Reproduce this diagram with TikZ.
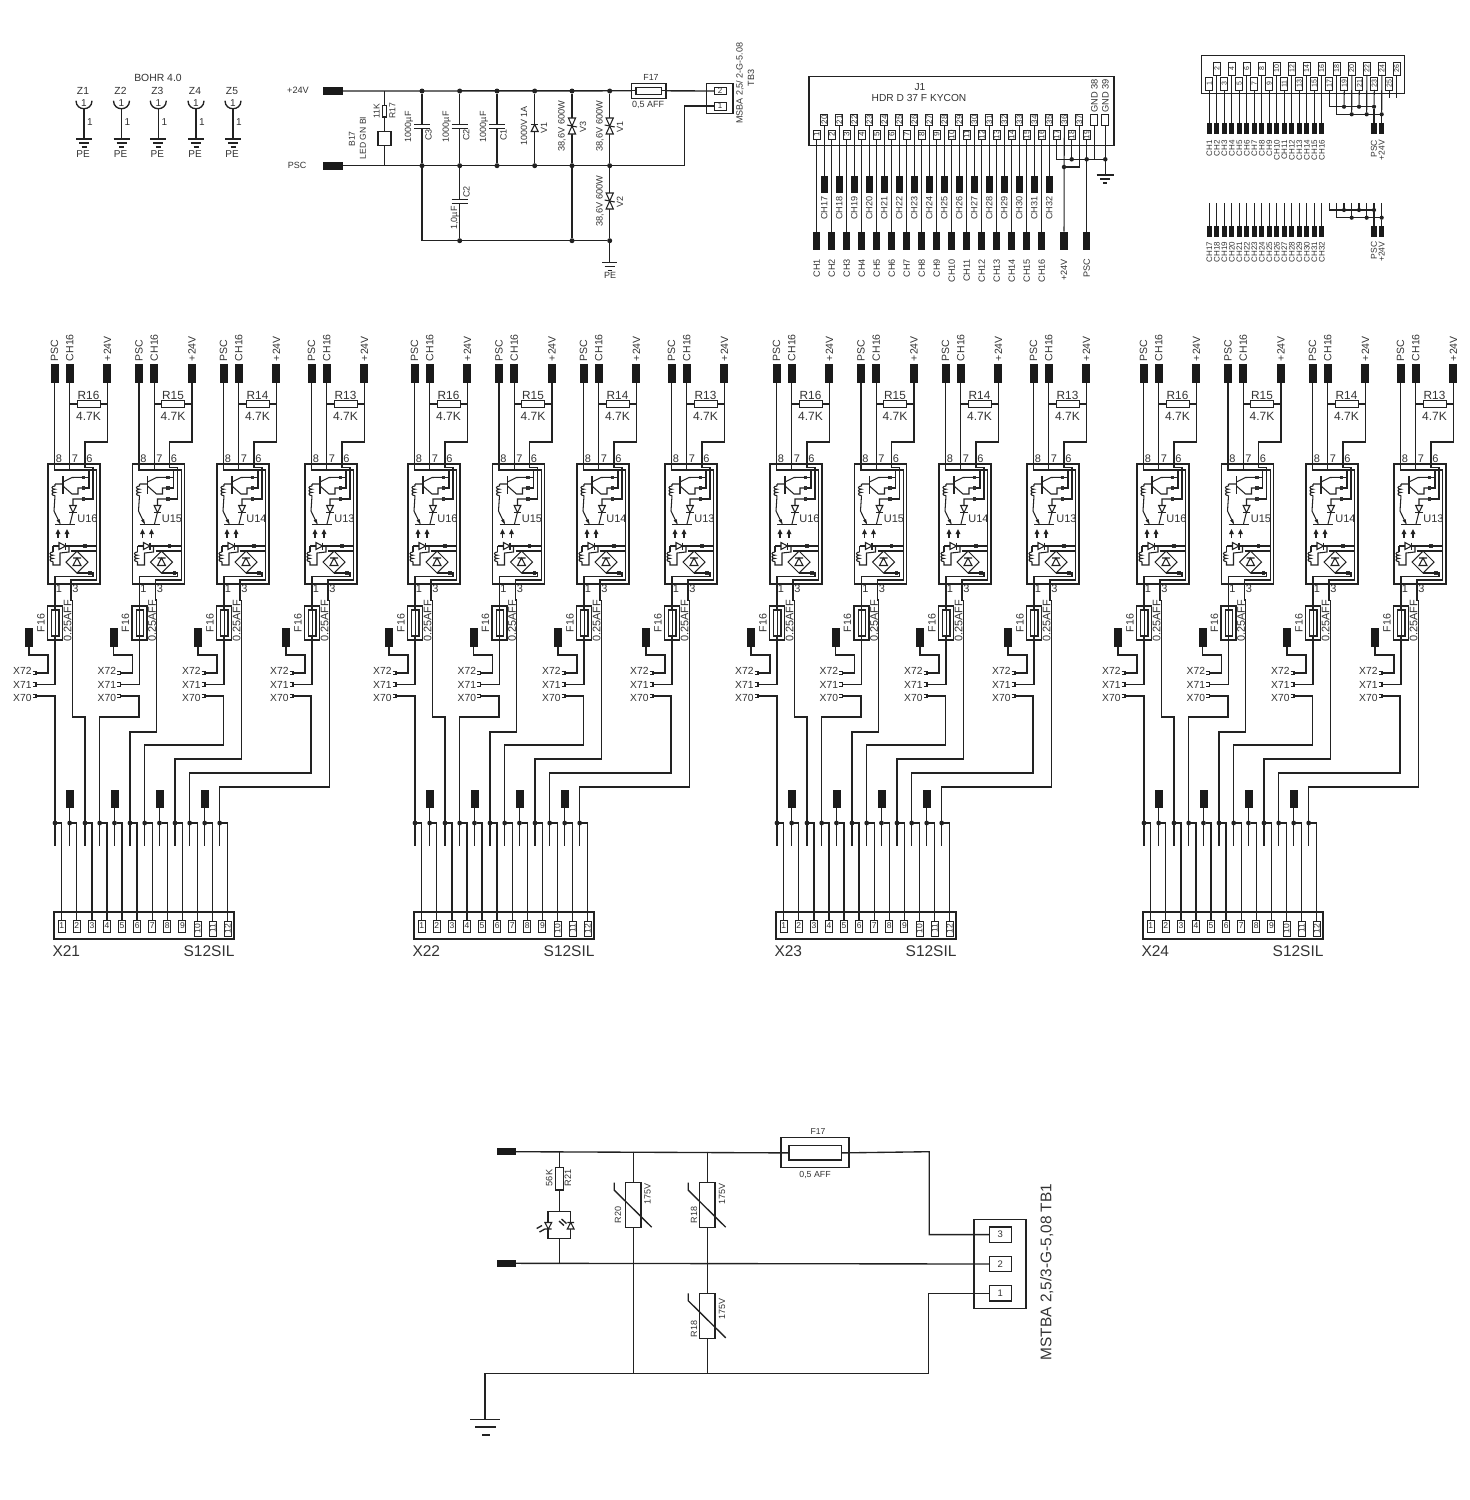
\documentclass[tikz,border=0pt]{standalone}
\usepackage{fontspec}
\usepackage{graphicx}
\setmainfont{Liberation Sans}
\definecolor{ink}{HTML}{222222}
\definecolor{tink}{HTML}{333333}
\definecolor{padc}{HTML}{1A1A1A}
\newcount\tcnt
\newcommand\lab[4][]{\global\advance\tcnt by 1\relax\node[txt,#1] (t\the\tcnt) at (#2,#3) {#4};}
\newcommand\rlab[4][]{\lab[rotate=90,#1]{#2}{#3}{#4}}
\newcommand\spad[2]{\fill[tink] (#1-1.8,#2-1.6) rectangle (#1+1.8,#2+1.6);}
\newcommand\coilv[3]{\draw[wthin] (#1,#2) .. controls (#1-#3,#2) and (#1-#3,#2+3.2) .. (#1,#2+3.2) .. controls (#1-#3,#2+3.2) and (#1-#3,#2+6.4) .. (#1,#2+6.4) .. controls (#1-#3,#2+6.4) and (#1-#3,#2+9.6) .. (#1,#2+9.6);}
\newcommand\gnd[5]{\draw[wire] (#1-#3,#2) -- (#1+#3,#2) (#1-#4,#2+4) -- (#1+#4,#2+4) (#1-#5,#2+8) -- (#1+#5,#2+8);}
\newcommand\tvs[2]{\draw[wthin,fill=white] (#1-3.6,#2-8) -- (#1+3.6,#2-8) -- (#1,#2) -- cycle (#1-3.6,#2+8) -- (#1+3.6,#2+8) -- (#1,#2) -- cycle; \draw[wthin] (#1-5,#2-1) -- (#1+5,#2+1);}
\newcommand\capsym[3]{\draw[wire] (#1-#3,#2-2) -- (#1+#3,#2-2) (#1-#3,#2+2) -- (#1+#3,#2+2);}
\newcommand\varis[3]{%
  \node[varbox] (#3) at (#1,#2) {};
  \draw[wire] (#1-19,#2-22.5) -- (#1-19,#2-15) -- (#1+18.4,#2+22);}
\newcommand\lightarrow[1]{\draw[wire] (#1,537.5) -- (#1,533); \fill[ink] (#1,529) -- (#1+2.4,534) -- (#1-2.4,534) -- cycle;}
\tikzset{
  wire/.style={draw=ink,line width=1.35pt},
  wthin/.style={draw=ink,line width=1.05pt},
  txt/.style={inner sep=0pt,outer sep=0pt,text=tink},
  fs/.style={font=\fontsize{#1}{#1}\selectfont},
  padv/.style={fill=padc,draw=none,inner sep=0pt,outer sep=0pt,minimum width=8pt,minimum height=19pt},
  padh/.style={fill=padc,draw=none,inner sep=0pt,outer sep=0pt,minimum width=20pt,minimum height=8pt},
  rbox/.style={draw=ink,line width=1pt,fill=white,inner sep=0pt,outer sep=0pt,minimum width=23pt,minimum height=7pt},
  ubox/.style={draw=ink,line width=1.1pt,inner sep=0pt,outer sep=0pt,minimum width=52pt,minimum height=120pt},
  plainbox/.style={draw=ink,line width=1.1pt,inner sep=0pt,outer sep=0pt,text=tink},
  fuseo/.style={draw=ink,line width=1.1pt,inner sep=0pt,outer sep=0pt,minimum width=15pt,minimum height=34pt},
  fusei/.style={draw=ink,line width=1.1pt,fill=white,inner sep=0pt,outer sep=0pt,minimum width=7.3pt,minimum height=26pt},
  pinbox/.style={draw=ink,line width=.9pt,fill=white,inner sep=0pt,outer sep=0pt,text=tink,minimum width=7pt,minimum height=11pt,font=\fontsize{8}{8}\selectfont},
  jdot/.style={circle,fill=ink,draw=none,inner sep=0pt,outer sep=0pt,minimum size=5pt},
  varbox/.style={draw=ink,line width=1.3pt,fill=white,inner sep=0pt,outer sep=0pt,minimum width=15.6pt,minimum height=45pt},
}
% one opto channel, drawn in the coordinates of the first channel
\newcommand\optochannel[3]{%
  \node[padv] (#1-psc) at (54.6,373.5) {};
  \node[padv] (#1-ch) at (69.7,373.5) {};
  \node[padv] (#1-v) at (107.4,373.5) {};
  \rlab[fs=10.5,anchor=west]{54.6}{361}{PSC}
  \rlab[fs=10.5,anchor=west]{69.7}{361}{CH16}
  \rlab[fs=10.5,anchor=west]{107.4}{361}{+24V}
  \node[ubox] (#1-box) at (74,524) {};
  \draw[wire] (#1-ch.south) -- (69.7,470);
  \draw[wire] (#1-v.south) |- (85,442) -- (85,467.7) -- (93,467.7) -- (93,499) -- (84,499);
  \draw[wire] (#1-psc.south) |- (96.7,470) -- (96.7,580) -- (71,580) -- (71,600) -- (72.3,600);
  \coordinate (#1-f3) at (72.3,600);
  \draw[wthin] (#1-ch |- 0,404) -- (#1-v |- 0,404);
  \node[rbox] (#1-r) at (88.5,404) {};
  \lab[fs=11.8]{88.5}{395}{#3}
  \lab[fs=12]{88.5}{416}{4.7K}
  \lab[fs=11]{59}{459}{8}
  \lab[fs=11]{75}{459}{7}
  \lab[fs=11]{89.5}{459}{6}
  \lab[fs=11]{59}{589}{1}
  \lab[fs=11]{75.5}{589}{3}
  \lab[fs=11]{87.5}{519}{#2}
  \draw[wthin] (89,470) -- (89,488) -- (84,488) (89,477.3) -- (84,477.3);
  \spad{83.5}{477.3}\spad{83.5}{488}\spad{83.5}{499}\spad{85}{546}\spad{90}{573}
  % darlington
  \draw[wire] (63,476) -- (63,494);
  \draw[wthin] (55,484) -- (63,484) (63,482) -- (72,477.5) -- (83,477.3) (63,486) -- (72,494) -- (78,494) -- (78,488) -- (83,488);
  \coilv{55}{486}{4}
  \draw[wthin] (55,484) -- (55,486) (55,495.6) -- (54,511) -- (60,523.5);
  \fill[ink] (60.5,524) -- (56.5,520.5) -- (59.5,519) -- cycle;
  \draw[wire] (55,524.5) -- (75,524.5);
  \draw[wthin] (70,524) -- (73,512) -- (73,499) -- (83,499);
  \draw[wthin,fill=white] (69.6,505.5) -- (76.4,505.5) -- (73,512.5) -- cycle;
  \draw[wire] (69.4,512.5) -- (76.6,512.5);
  % light arrows
  \lightarrow{58}
  \lightarrow{67}
  % input side
  \draw[wthin] (53,546) -- (96.7,546);
  \draw[wthin,fill=white] (59,542.5) -- (59,549.5) -- (65.5,546) -- cycle;
  \draw[wthin] (65.5,542.5) -- (65.5,549.5);
  \draw[wthin] (53,546) -- (53,552);
  \coilv{53}{552}{4}
  \draw[wthin] (53,561.6) -- (53,565) -- (60,565) -- (60,553) -- (69,552) -- (69,547);
  \draw[wthin] (71,551) -- (97,551);
  \draw[wthin] (77,551) -- (88,562) -- (77,573) -- (66,562) -- cycle;
  \draw[wthin] (73,565.5) -- (81,565.5) -- (77,558) -- cycle (73,558) -- (81,558);
  \draw[wthin] (77,573) -- (90,573);
  % pin 1 and fuse
  \draw[wire] (55,606) -- (55,576.7) -- (93,576.7) -- (93,573) -- (90,573);
  \node[fuseo] (#1-fo) at (55,623) {};
  \draw[wire] (55,606) -- (55,685);
  \node[fusei] (#1-fi) at (55.3,623) {};
  \draw[wthin] (55.3,610) -- (55.3,636);
  \lab[fs=10.6,rotate=90]{41}{623}{F16}
  \lab[fs=10.9,rotate=90]{67.5}{621}{0.25AFF}
  % test terminals
  \foreach \yy/\nn/\ly in {673/72/671,684.6/71/685,696/70/698}{
    \coordinate (#1-x\nn) at (36,\yy);
    \draw[wthin] (32.5,\yy-1.8) -- (36,\yy-1.8) -- (36,\yy+1.8) -- (32.5,\yy+1.8);
    \lab[fs=10.3,anchor=east]{31.5}{\ly}{X\nn}
  }
  \node[padv] (#1-t) at (29,637.5) {};
  \draw[wire] (#1-t.south) |- (48,655) |- (#1-x72);
  \draw[wire] (#1-x71) -- (55,684.6);
  \draw[wire] (#1-f3) -- (72.3,601);
}
\begin{document}
\begin{tikzpicture}[x=1pt,y=-1pt]
\useasboundingbox (0,0) rectangle (1470,1500);
\fill[white] (0,0) rectangle (1470,1500);

% ---- BOHR mounting holes
\lab[fs=10.4]{158}{78}{BOHR 4.0}
\foreach \i/\x in {1/84,2/121.5,3/158.3,4/196,5/233}{
  \lab[fs=10.3]{\x-1}{91}{Z\i}
  \coordinate (z\i) at (\x,108.7);
  \coordinate (zg\i) at (\x,139);
  \draw[wire] (\x-8,100.7) .. controls (\x-8,111.4) and (\x+8,111.4) .. (\x+8,100.7);
  \lab[fs=10]{\x}{103}{1}
  \draw[wire] (z\i) -- (zg\i);
  \lab[fs=10]{\x+6}{122}{1}
  \gnd{\x}{139}{8}{5}{2.5}
  \lab[fs=10]{\x-1}{154}{PE}
}

% ---- power input
\node[padh] (hp1) at (333,91) {};
\node[padh] (hp2) at (333,165.7) {};
\lab[fs=9.2]{298}{90}{+24V}
\lab[fs=9]{297}{165}{PSC}
\foreach \i/\x in {1/422,2/459.7,3/497,4/534.7,5/572,6/609.7}{
  \node[jdot] (ta\i) at (\x,91) {};
  \node[jdot] (tb\i) at (\x,165.7) {};
  \draw[wire] (ta\i) -- (tb\i);
}
\node[inner sep=0pt,outer sep=0pt,draw=ink,line width=1.1pt,minimum width=34.3pt,minimum height=15pt] (tf) at (648.8,90.8) {};
\node[inner sep=0pt,outer sep=0pt,draw=ink,line width=1.1pt,fill=white,minimum width=25.7pt,minimum height=7pt] (tfi) at (648.8,90.8) {};
\node[plainbox,minimum width=26.3pt,minimum height=30pt] (tb3) at (719.8,98.3) {};
\node[pinbox,minimum width=12pt,minimum height=7.7pt] (tp2) at (720,91) {2};
\node[pinbox,minimum width=12pt,minimum height=8pt] (tp1) at (720,106) {1};
\draw[wire] (hp1.east) -- (tf.west) (tf.east) -- (tp2.west);
\draw[wire] (hp2.east) -- (684.3,165.7) |- (tp1.west);
\draw[wire] (tf.west) -- (tfi.west) (tfi.east) -- (tf.east);
\lab[fs=8.8]{651}{77}{F17}
\lab[fs=9]{648}{105.3}{0,5  AFF}
\rlab[fs=9]{740}{83}{MSBA 2,5/ 2-G-5.08}
\rlab[fs=9]{751}{78}{TB3}
% R17 and LED
\coordinate (r17t) at (384.3,91);
\coordinate (r17b) at (384.3,165.7);
\draw[wthin] (r17t) -- (r17b);
\node[plainbox,fill=white,minimum width=4.5pt,minimum height=11.3pt] (r17) at (384.3,111.3) {};
\node[plainbox,fill=white,minimum width=13pt,minimum height=14pt] (b17) at (384.5,138.7) {};
\rlab[fs=8.6]{376.6}{111}{11K}
\rlab[fs=8.6]{392.5}{111}{R17}
\rlab[fs=8.6]{352}{139}{B17}
\rlab[fs=8.6]{363}{138}{LED GN BI}
% caps
\foreach \x/\n in {422/C3,459.7/C2,497/C1}{
  \fill[white] (\x-3,124.9) rectangle (\x+3,127.7);
  \capsym{\x}{126.3}{8}
  \rlab[fs=9]{\x-13}{126.7}{1000µF}
  \rlab[fs=9]{\x+6.5}{135}{\n}
}
\draw[wthin,fill=white] (534.7-3.5,131.5) -- (534.7+3.5,131.5) -- (534.7,124.5) -- cycle;
\draw[wthin] (534.7-3.5,124.5) -- (534.7+3.5,124.5);
\rlab[fs=9]{524}{126}{1000V 1A}
\rlab[fs=9]{544}{128}{V1}
\tvs{572}{126}
\rlab[fs=9.2]{562}{126}{38,6V 600W}
\rlab[fs=9]{583}{127}{V3}
\tvs{609.7}{126}
\rlab[fs=9.2]{600}{126}{38,6V 600W}
\rlab[fs=9]{620}{127}{V1}
\node[jdot] (bb2) at (459.7,240.7) {};
\node[jdot] (bb5) at (572,240.7) {};
\node[jdot] (bb6) at (609.7,240.7) {};
\coordinate (bbl) at (422,240.7);
\coordinate (tgnd) at (609.7,262.3);
\draw[wire] (tb1) -- (bbl) -- (bb6) -- (tgnd);
\draw[wire] (tb2) -- (bb2) (tb5) -- (bb5) (tb6) -- (bb6);
\fill[white] (456,200) rectangle (463,203.2);
\capsym{459.7}{201.6}{8}
\rlab[fs=9]{466.5}{192}{C2}
\rlab[fs=9]{455}{218}{1,0µF}
\tvs{609.7}{201}
\rlab[fs=9.2]{600}{201}{38,6V 600W}
\rlab[fs=9]{620}{202}{V2}
\gnd{609.7}{262.3}{7.6}{5}{2}
\lab[fs=9]{610}{275.5}{PE}

% ---- J1 connector
\node[plainbox,minimum width=305pt,minimum height=69pt] (j1) at (961.5,111.2) {};
\lab[fs=10.2]{920}{86.7}{J1}
\lab[fs=10.2]{919}{98.3}{HDR D 37 F KYCON}
\foreach \i in {1,...,19}{
  \pgfmathsetmacro\xx{816.7+15*(\i-1)}
  \node[pinbox,minimum height=9.3pt] (jl\i) at (\xx,134.6) {\rotatebox{90}{\i}};
}
\foreach \i in {20,...,37}{
  \pgfmathsetmacro\xx{824.3+15*(\i-20)}
  \node[pinbox,minimum height=10.7pt] (ju\i) at (\xx,119.7) {\rotatebox{90}{\i}};
}
\foreach \i in {1,...,16}{
  \pgfmathsetmacro\xx{816.7+15*(\i-1)}
  \node[padv,minimum height=18.3pt,minimum width=7.5pt] (jp\i) at (\xx,240.8) {};
  \draw[wthin] (jl\i.south) -- (jp\i.north);
  \rlab[fs=9.1,anchor=east]{\xx}{259}{CH\i}
}
\foreach \i/\c in {20/17,21/18,22/19,23/20,24/21,25/22,26/23,27/24,28/25,29/26,30/27,31/28,32/29,33/30,34/31,35/32}{
  \pgfmathsetmacro\xx{824.3+15*(\i-20)}
  \node[padv,minimum height=17.6pt,minimum width=7.5pt] (jq\i) at (\xx,184.5) {};
  \draw[wthin] (ju\i.south) -- (jq\i.north);
  \rlab[fs=9.1,anchor=east]{\xx}{196.7}{CH\c}
}
\node[pinbox,minimum height=10.7pt] (g38) at (1094.3,119.7) {};
\node[pinbox,minimum height=10.7pt] (g39) at (1105.3,119.7) {};
\rlab[fs=9.3,anchor=west]{1094.3}{112.5}{GND 38}
\rlab[fs=9.3,anchor=west]{1105.3}{112.5}{GND 39}
\node[jdot,minimum size=4.5pt] (jd18) at (1071.7,159.3) {};
\node[jdot,minimum size=4.5pt] (jd19) at (1086.7,159.3) {};
\node[jdot,minimum size=4.5pt] (jdg) at (1105.3,159.3) {};
\node[jdot,minimum size=4.5pt] (jd36) at (1064,167) {};
\node[padv,minimum height=18.3pt,minimum width=7.5pt] (jpv) at (1064,240.8) {};
\node[padv,minimum height=18.3pt,minimum width=7.5pt] (jps) at (1086.7,240.8) {};
\coordinate (jg) at (1105.3,175);
\draw[wthin] (jl17.south) |- (jdg);
\draw[wthin] (jl18.south) -- (jd18);
\draw[wthin] (jl19.south) -- (jps.north);
\draw[wthin] (g38.south) |- (jdg);
\draw[wthin] (g39.south) -- (jg);
\draw[wthin] (ju36.south) -- (jpv.north);
\draw[wthin] (ju37.south) |- (jd36);
\gnd{1105.3}{175}{8.6}{5}{2}
\rlab[fs=9.1,anchor=east]{1064}{259}{+24V}
\rlab[fs=9.1,anchor=east]{1086.7}{259}{PSC}

% ---- second header
\node[plainbox,minimum width=202.6pt,minimum height=38.3pt] (h2) at (1303,74.2) {};
\foreach \i in {1,3,...,25}{
  \pgfmathsetmacro\xx{1209.3+7.5*(\i-1)}
  \node[pinbox,minimum height=12.3pt,font=\fontsize{7}{7}\selectfont] (hp-\i) at (\xx,83.8) {\rotatebox{90}{\i}};
}
\foreach \i in {2,4,...,26}{
  \pgfmathsetmacro\xx{1209.3+7.5*(\i-1)}
  \node[pinbox,minimum height=12.3pt,font=\fontsize{7}{7}\selectfont] (hp-\i) at (\xx,68.8) {\rotatebox{90}{\i}};
}
\foreach \i in {1,...,16}{
  \pgfmathsetmacro\xx{1209.3+7.5*(\i-1)}
  \pgfmathtruncatemacro\cc{\i+16}
  \node[padv,minimum width=5.2pt,minimum height=11pt] (hq\i) at (\xx,128.8) {};
  \draw[wthin] (hp-\i.south) -- (hq\i.north);
  \rlab[fs=8,anchor=east]{\xx}{140}{CH\i}
  \node[padv,minimum width=5.2pt,minimum height=10.7pt] (hr\i) at (\xx,231.3) {};
  \coordinate (hs\i) at (\xx,203);
  \draw[wthin] (hs\i) -- (hr\i.north);
  \rlab[fs=8,anchor=east]{\xx}{241.7}{CH\cc}
}
\node[padv,minimum width=5.2pt,minimum height=11pt] (hqp) at (1374,128.8) {};
\node[padv,minimum width=5.2pt,minimum height=11pt] (hqv) at (1381.7,128.8) {};
\node[padv,minimum width=5.2pt,minimum height=10.7pt] (hrp) at (1374,231.3) {};
\node[padv,minimum width=5.2pt,minimum height=10.7pt] (hrv) at (1381.7,231.3) {};
\rlab[fs=8.5,anchor=east]{1374}{140}{PSC}
\rlab[fs=8.5,anchor=east]{1381.7}{140}{+24V}
\rlab[fs=8.5,anchor=east]{1374}{241.7}{PSC}
\rlab[fs=8.5,anchor=east]{1381.7}{241.7}{+24V}
\foreach \i/\x in {19/1344,21/1359,23/1374}{
  \node[jdot,minimum size=4.2pt] (ha\i) at (\x,106.7) {};
  \draw[wthin] (hp-\i.south) -- (ha\i);
  \node[jdot,minimum size=4.2pt] (hc\i) at (\x,210) {};
  \coordinate (hcs\i) at (\x,203);
  \draw[wthin] (hcs\i) -- (hc\i);
}
\foreach \i/\x in {20/1351.7,22/1366.7,24/1381.7}{
  \node[jdot,minimum size=4.2pt] (hb\i) at (\x,114.3) {};
  \draw[wthin] (hp-\i.south) -- (hb\i);
  \node[jdot,minimum size=4.2pt] (hd\i) at (\x,217.7) {};
  \coordinate (hds\i) at (\x,203);
  \draw[wthin] (hds\i) -- (hd\i);
}
\draw[wthin] (hp-17.south) |- (ha23);
\draw[wthin] (hp-18.south) |- (hb24);
\draw[wthin] (ha23) -- (hqp.north) (hb24) -- (hqv.north);
\draw[wthin] (hp-25.south) -- ++(0,8) (hp-26.south) -- ++(0,23);
\coordinate (hs17) at (1329.3,203);
\coordinate (hs18) at (1336.7,203);
\draw[wthin] (hs17) |- (hc23);
\draw[wthin] (hs18) |- (hd24);
\draw[wthin] (hc23) -- (hrp.north) (hd24) -- (hrv.north);

% ---- four output modules
\foreach \m/\mx/\xn in {a/0/X21,b/360/X22,c/722/X23,d/1089/X24}{
\begin{scope}[shift={(\mx,0)}]
  \foreach \u/\ux/\ul/\rl in {1/0/U16/R16,2/84.5/U15/R15,3/169/U14/R14,4/257/U13/R13}{
    \begin{scope}[shift={(\ux,0)}]
      \optochannel{\m\u}{\ul}{\rl}
    \end{scope}
  }
  \node[plainbox,minimum width=180pt,minimum height=27pt] (\m-con) at (144,925.5) {};
  \foreach \i/\jx in {1/55,2/69.7,3/85,4/99.7,5/114.5,6/130,7/144.7,8/159.5,9/175,10/189.7,11/204.7,12/219.7}{
    \pgfmathsetmacro\px{61.7+15.09*(\i-1)}
    \node[jdot,minimum size=4.8pt] (\m-j\i) at (\jx,823) {};
    \ifnum\i<10
      \node[pinbox,font=\fontsize{8.5}{8.5}\selectfont,minimum height=12pt] (\m-p\i) at (\px,926) {\i};
    \else
      \node[pinbox,font=\fontsize{8.5}{8.5}\selectfont,minimum height=15pt] (\m-p\i) at (\px,928.5) {\rotatebox{90}{\i}};
    \fi
    \draw[wire] (\m-j\i) -| (\m-p\i.north);
    \draw[wire] (\m-j\i) -- ++(0,23);
  }
  \foreach \i/\jx in {2/69.7,5/114.5,8/159.5,11/204.7}{
    \node[padv,minimum height=18pt] (\m-b\i) at (\jx,799) {};
    \draw[wire] (\m-b\i.south) -- (\m-j\i);
  }
  \draw[wire] (\m1-x70) -| (\m-j1);
  \draw[wire] (\m1-f3) |- (85,717) -- (\m-j3);
  \draw[wire] (\m2-x70) -| (139,717) -| (\m-j4);
  \draw[wire] (\m2-f3) |- (130,732) -- (\m-j6);
  \draw[wire] (\m3-x70) -| (223.6,745) -| (\m-j7);
  \draw[wire] (\m3-f3) |- (175,759) -- (\m-j9);
  \draw[wire] (\m4-x70) -| (311,773) -| (\m-j10);
  \draw[wire] (\m4-f3) |- (219.7,787) -- (\m-j12);
  \lab[fs=15.5,anchor=west]{52.5}{951}{\xn}
  \lab[fs=15.5,anchor=east]{234.5}{951}{S12SIL}
\end{scope}
}

% ---- bottom supply schematic
\node[padh,minimum width=19pt,minimum height=7.3pt] (sp1) at (506.2,1151.7) {};
\node[padh,minimum width=19pt,minimum height=7.3pt] (sp2) at (506.2,1263.3) {};
\node[plainbox,minimum width=52pt,minimum height=89pt] (tb1) at (1000,1263.8) {};
\node[plainbox,fill=white,font=\fontsize{9.5}{9.5}\selectfont,minimum width=22pt,minimum height=15.3pt] (s3) at (1000.3,1234.6) {3};
\node[plainbox,fill=white,font=\fontsize{9.5}{9.5}\selectfont,minimum width=22pt,minimum height=15.3pt] (s2) at (1000.3,1264) {2};
\node[plainbox,fill=white,font=\fontsize{9.5}{9.5}\selectfont,minimum width=22pt,minimum height=15.3pt] (s1) at (1000.3,1293.3) {1};
\node[draw=ink,line width=1.3pt,inner sep=0pt,outer sep=0pt,minimum width=68pt,minimum height=30pt] (sf) at (815,1152.7) {};
\node[draw=ink,line width=1.3pt,inner sep=0pt,outer sep=0pt,fill=white,minimum width=52.3pt,minimum height=14.3pt] (sfi) at (815.2,1152.9) {};
\lab[fs=8.6]{818}{1132}{F17}
\lab[fs=8.8]{815}{1175}{0,5  AFF}
\rlab[fs=15.4]{1046.7}{1272}{MSTBA 2,5/3-G-5,08 TB1}
\coordinate (sn1) at (559.3,1151.7);
\coordinate (sn2) at (633.3,1151.7);
\coordinate (sn3) at (707.3,1151.7);
\coordinate (sm1) at (559.3,1263.3);
\coordinate (sl2) at (633.3,1373.3);
\coordinate (sl3) at (707.3,1373.3);
\coordinate (sgt) at (485,1373.3);
\coordinate (sgb) at (485,1419.3);
\draw[wire] (sp1.east) -- (sfi.west) (sfi.east) -- (929.3,1151.7) |- (s3.west);
\draw[wire] (sp2.east) -- (s2.west);
\draw[wire] (sgb) -- (sgt) -- (928.3,1373.3) |- (s1.west);
\draw[wire] (sn1) -- (sm1);
\draw[wire] (sn2) -- (sl2);
\draw[wire] (sn3) -- (sl3);
\node[plainbox,fill=white,line width=1.3pt,minimum width=8pt,minimum height=22.7pt] (r21) at (559.5,1178.6) {};
\lab[fs=9.2]{549.3}{1178}{\rotatebox{90}{56K}}
\lab[fs=9.2]{568}{1178}{\rotatebox{90}{R21}}
\node[plainbox,fill=white,line width=1.3pt,minimum width=22.7pt,minimum height=26.6pt] (led) at (559.3,1225) {};
\draw[wthin,fill=white] (548.3-3.4,1222.5) -- (548.3+3.4,1222.5) -- (548.3,1229) -- cycle (548.3-3.4,1229) -- (548.3+3.4,1229);
\draw[wthin,fill=white] (570.7-3.4,1229) -- (570.7+3.4,1229) -- (570.7,1222.5) -- cycle (570.7-3.4,1222.5) -- (570.7+3.4,1222.5);
\draw[wire] (536.7,1228.5) -- (542,1225.5) (539.5,1232) -- (544.8,1229);
\draw[wire] (559,1221) -- (564,1225.5) (561.5,1219) -- (566.5,1223.5);
\varis{633.3}{1205.2}{vr20}
\rlab[fs=9]{618}{1215}{R20}
\rlab[fs=9]{647.5}{1194}{175V}
\varis{707.3}{1205.2}{vr18a}
\rlab[fs=9]{694}{1215}{R18}
\rlab[fs=9]{722}{1194}{175V}
\varis{707.3}{1315.8}{vr18b}
\rlab[fs=9]{694}{1329}{R18}
\rlab[fs=9]{722}{1309}{175V}
\draw[wire] (470,1419.3) -- (500,1419.3) (475,1427) -- (496,1427);
\draw[wire] (482,1435) -- (489.5,1435);
\end{tikzpicture}
\end{document}
